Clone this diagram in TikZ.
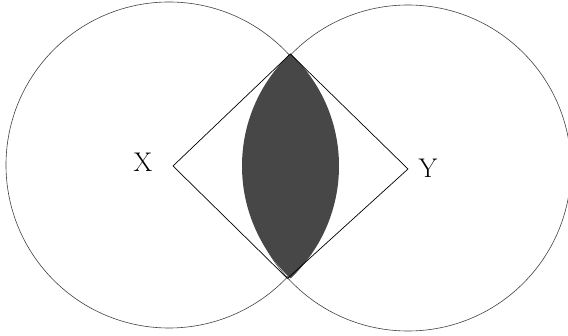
\documentclass[tikz,border=0pt]{standalone}
\begin{document}
\begin{tikzpicture}[x=1pt,y=1pt,
  ring/.style={draw=black!75,line width=0.6pt},
  lens/.style={fill=black!72},
  edge/.style={draw=black,line width=0.7pt,line join=miter},
  lab/.style={font=\fontsize{27}{30}\selectfont,inner sep=0pt}]
\useasboundingbox (0,0) rectangle (568,335);
% circle centres and radius
\coordinate (A) at (169,170);
\coordinate (B) at (408,167);
\def\rr{163}
% intersection points of the two circles
\coordinate (top) at (290.3,281.0);
\coordinate (bot) at (287.5,56.5);
% diamond vertices
\coordinate (xv) at (173,169);
\coordinate (yv) at (408,166);
% circles
\draw[ring] (A) circle (\rr);
\draw[ring] (B) circle (\rr);
% shaded lens
\begin{scope}
  \clip (184.3,169) circle (154.7);
  \fill[lens] (396.7,169) circle (154.7);
\end{scope}
% diamond
\draw[edge] (xv) -- (top) -- (yv) -- (bot) -- cycle;
% labels
\node[lab] (X) at (143,173) {X};
\node[lab] (Y) at (428,167) {Y};
\end{tikzpicture}
\end{document}
